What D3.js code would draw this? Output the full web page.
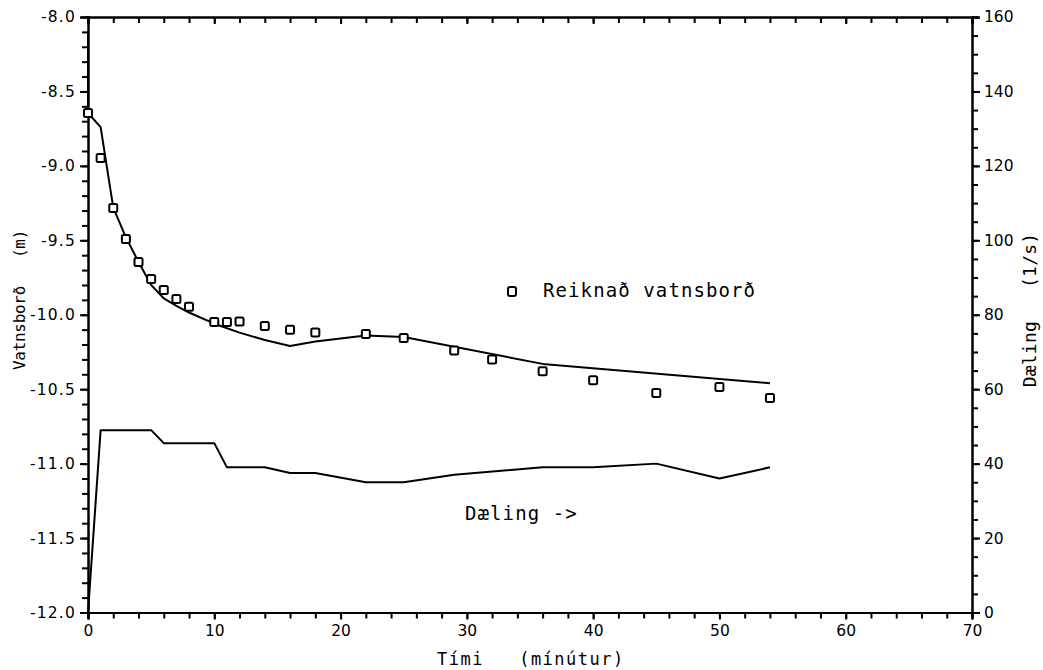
<!DOCTYPE html>
<html>
<head>
<meta charset="utf-8">
<script src="https://cdn.jsdelivr.net/npm/d3@7"></script>
<style>
  body { margin: 0; background: white; }
  svg { display: block; }
  .tick text { font-family: "DejaVu Sans", sans-serif; font-size: 15.5px; fill: black; }
  .mono { font-family: "DejaVu Sans Mono", monospace; fill: black; }
</style>
</head>
<body>
<svg width="1043" height="670"></svg>
<script>
// measured water level (m)
var measTime = [0, 0, 1, 2, 3, 4, 5, 6, 7, 8, 10, 12, 14, 16, 18, 22, 25, 36, 54];
var measLevel = [-8.11, -8.645, -8.74, -9.28, -9.48, -9.645, -9.80, -9.89, -9.94, -9.985, -10.06, -10.12, -10.17, -10.21, -10.18, -10.14, -10.15, -10.33, -10.46];

// computed water level (squares)
var calcTime = [0, 1, 2, 3, 4, 5, 6, 7, 8, 10, 11, 12, 14, 16, 18, 22, 25, 29, 32, 36, 40, 45, 50, 54];
var calcLevel = [-8.645, -8.947, -9.283, -9.491, -9.645, -9.76, -9.833, -9.894, -9.947, -10.048, -10.048, -10.045, -10.075, -10.10, -10.12, -10.13, -10.156, -10.24, -10.30, -10.38, -10.44, -10.525, -10.485, -10.56];

// pumping rate (l/s)
var pumpTime = [0, 1, 5, 6, 10, 11, 14, 16, 18, 22, 25, 29, 36, 40, 45, 50, 54];
var pumpRate = [0, 49, 49, 45.5, 45.5, 39, 39, 37.5, 37.5, 35, 35, 37, 39, 39, 40, 36, 39];

var xMajor = [0, 10, 20, 30, 40, 50, 60, 70];
var yMajor = [-8.0, -8.5, -9.0, -9.5, -10.0, -10.5, -11.0, -11.5, -12.0];
var y2Major = [0, 20, 40, 60, 80, 100, 120, 140, 160];

var svg = d3.select('svg');
var pLeft = 88, pRight = 972, pTop = 17, pBottom = 612.5;

var x = d3.scaleLinear().domain([0, 70]).range([pLeft, pRight]);
var y = d3.scaleLinear().domain([-12, -8]).range([pBottom, pTop]);
var y2 = d3.scaleLinear().domain([0, 160]).range([pBottom, pTop]);

var xMinor = d3.range(0, 70.01, 2);
var yMinor = d3.range(0, 41).map(function (i) { return -12 + i * 0.1; });
var y2Minor = d3.range(0, 160.01, 5);

function styleAxis(g) {
    g.select('.domain').attr('stroke', 'black').attr('stroke-width', 2);
    g.selectAll('.tick line').attr('stroke', 'black').attr('stroke-width', 2);
}

// bottom axis
svg.append('g').attr('transform', 'translate(0,' + pBottom + ')')
    .call(d3.axisBottom(x).tickValues(xMinor).tickSize(6).tickFormat(''))
    .call(styleAxis);
svg.append('g').attr('transform', 'translate(0,' + pBottom + ')')
    .call(d3.axisBottom(x).tickValues(xMajor).tickSize(7).tickPadding(5).tickFormat(d3.format('d')))
    .call(styleAxis);

// top axis, ticks point inward
svg.append('g').attr('transform', 'translate(0,' + pTop + ')')
    .call(d3.axisBottom(x).tickValues(xMinor).tickSize(6).tickFormat(''))
    .call(styleAxis);
svg.append('g').attr('transform', 'translate(0,' + pTop + ')')
    .call(d3.axisBottom(x).tickValues(xMajor).tickSize(7).tickFormat(''))
    .call(styleAxis);

// left axis
svg.append('g').attr('transform', 'translate(' + pLeft + ',0)')
    .call(d3.axisLeft(y).tickValues(yMinor).tickSize(6).tickFormat(''))
    .call(styleAxis);
svg.append('g').attr('transform', 'translate(' + pLeft + ',0)')
    .call(d3.axisLeft(y).tickValues(yMajor).tickSize(8).tickPadding(4).tickFormat(function (d) { return d.toFixed(1); }))
    .call(styleAxis)
    .selectAll('text').attr('letter-spacing', 1.2);

// right axis
svg.append('g').attr('transform', 'translate(' + pRight + ',0)')
    .call(d3.axisRight(y2).tickValues(y2Minor).tickSize(6).tickFormat(''))
    .call(styleAxis);
svg.append('g').attr('transform', 'translate(' + pRight + ',0)')
    .call(d3.axisRight(y2).tickValues(y2Major).tickSize(8).tickPadding(4).tickFormat(d3.format('d')))
    .call(styleAxis);

// lines
var measLine = d3.line().x(function (d, i) { return x(measTime[i]); }).y(function (d) { return y(d); });
svg.append('path').datum(measLevel).attr('d', measLine)
    .attr('fill', 'none').attr('stroke', 'black').attr('stroke-width', 2).attr('stroke-linejoin', 'round');

var pumpLine = d3.line().x(function (d, i) { return x(pumpTime[i]); }).y(function (d) { return y2(d); });
svg.append('path').datum(pumpRate).attr('d', pumpLine)
    .attr('fill', 'none').attr('stroke', 'black').attr('stroke-width', 2).attr('stroke-linejoin', 'round');

// computed points
svg.selectAll('rect.calc').data(calcLevel).enter().append('rect')
    .attr('class', 'calc')
    .attr('x', function (d, i) { return x(calcTime[i]) - 4; })
    .attr('y', function (d) { return y(d) - 4; })
    .attr('width', 8).attr('height', 8).attr('rx', 1.5)
    .attr('fill', 'white').attr('stroke', 'black').attr('stroke-width', 2);

// legend
svg.append('rect').attr('x', 508).attr('y', 287).attr('width', 8).attr('height', 9).attr('rx', 2)
    .attr('fill', 'white').attr('stroke', 'black').attr('stroke-width', 2);
svg.append('text').attr('class', 'mono').attr('x', 543).attr('y', 297)
    .attr('font-size', 19).attr('letter-spacing', 1.1).text('Reiknað vatnsborð');

svg.append('text').attr('class', 'mono').attr('x', 465).attr('y', 520)
    .attr('font-size', 19).attr('letter-spacing', 1.1).text('Dæling ->');

// axis titles
svg.append('text').attr('class', 'mono').attr('x', 437).attr('y', 665)
    .attr('font-size', 17).attr('letter-spacing', 1.5)
    .style('white-space', 'pre').text('Tími   (mínútur)');

svg.append('text').attr('class', 'mono')
    .attr('transform', 'translate(25,300) rotate(-90)').attr('text-anchor', 'middle')
    .attr('font-size', 16).attr('letter-spacing', -0.3)
    .style('white-space', 'pre').text('Vatnsborð   (m)');

svg.append('text').attr('class', 'mono')
    .attr('transform', 'translate(1036,310) rotate(-90)').attr('text-anchor', 'middle')
    .attr('font-size', 18).attr('letter-spacing', 0.2)
    .style('white-space', 'pre').text('Dæling   (1/s)');
</script>
</body>
</html>
